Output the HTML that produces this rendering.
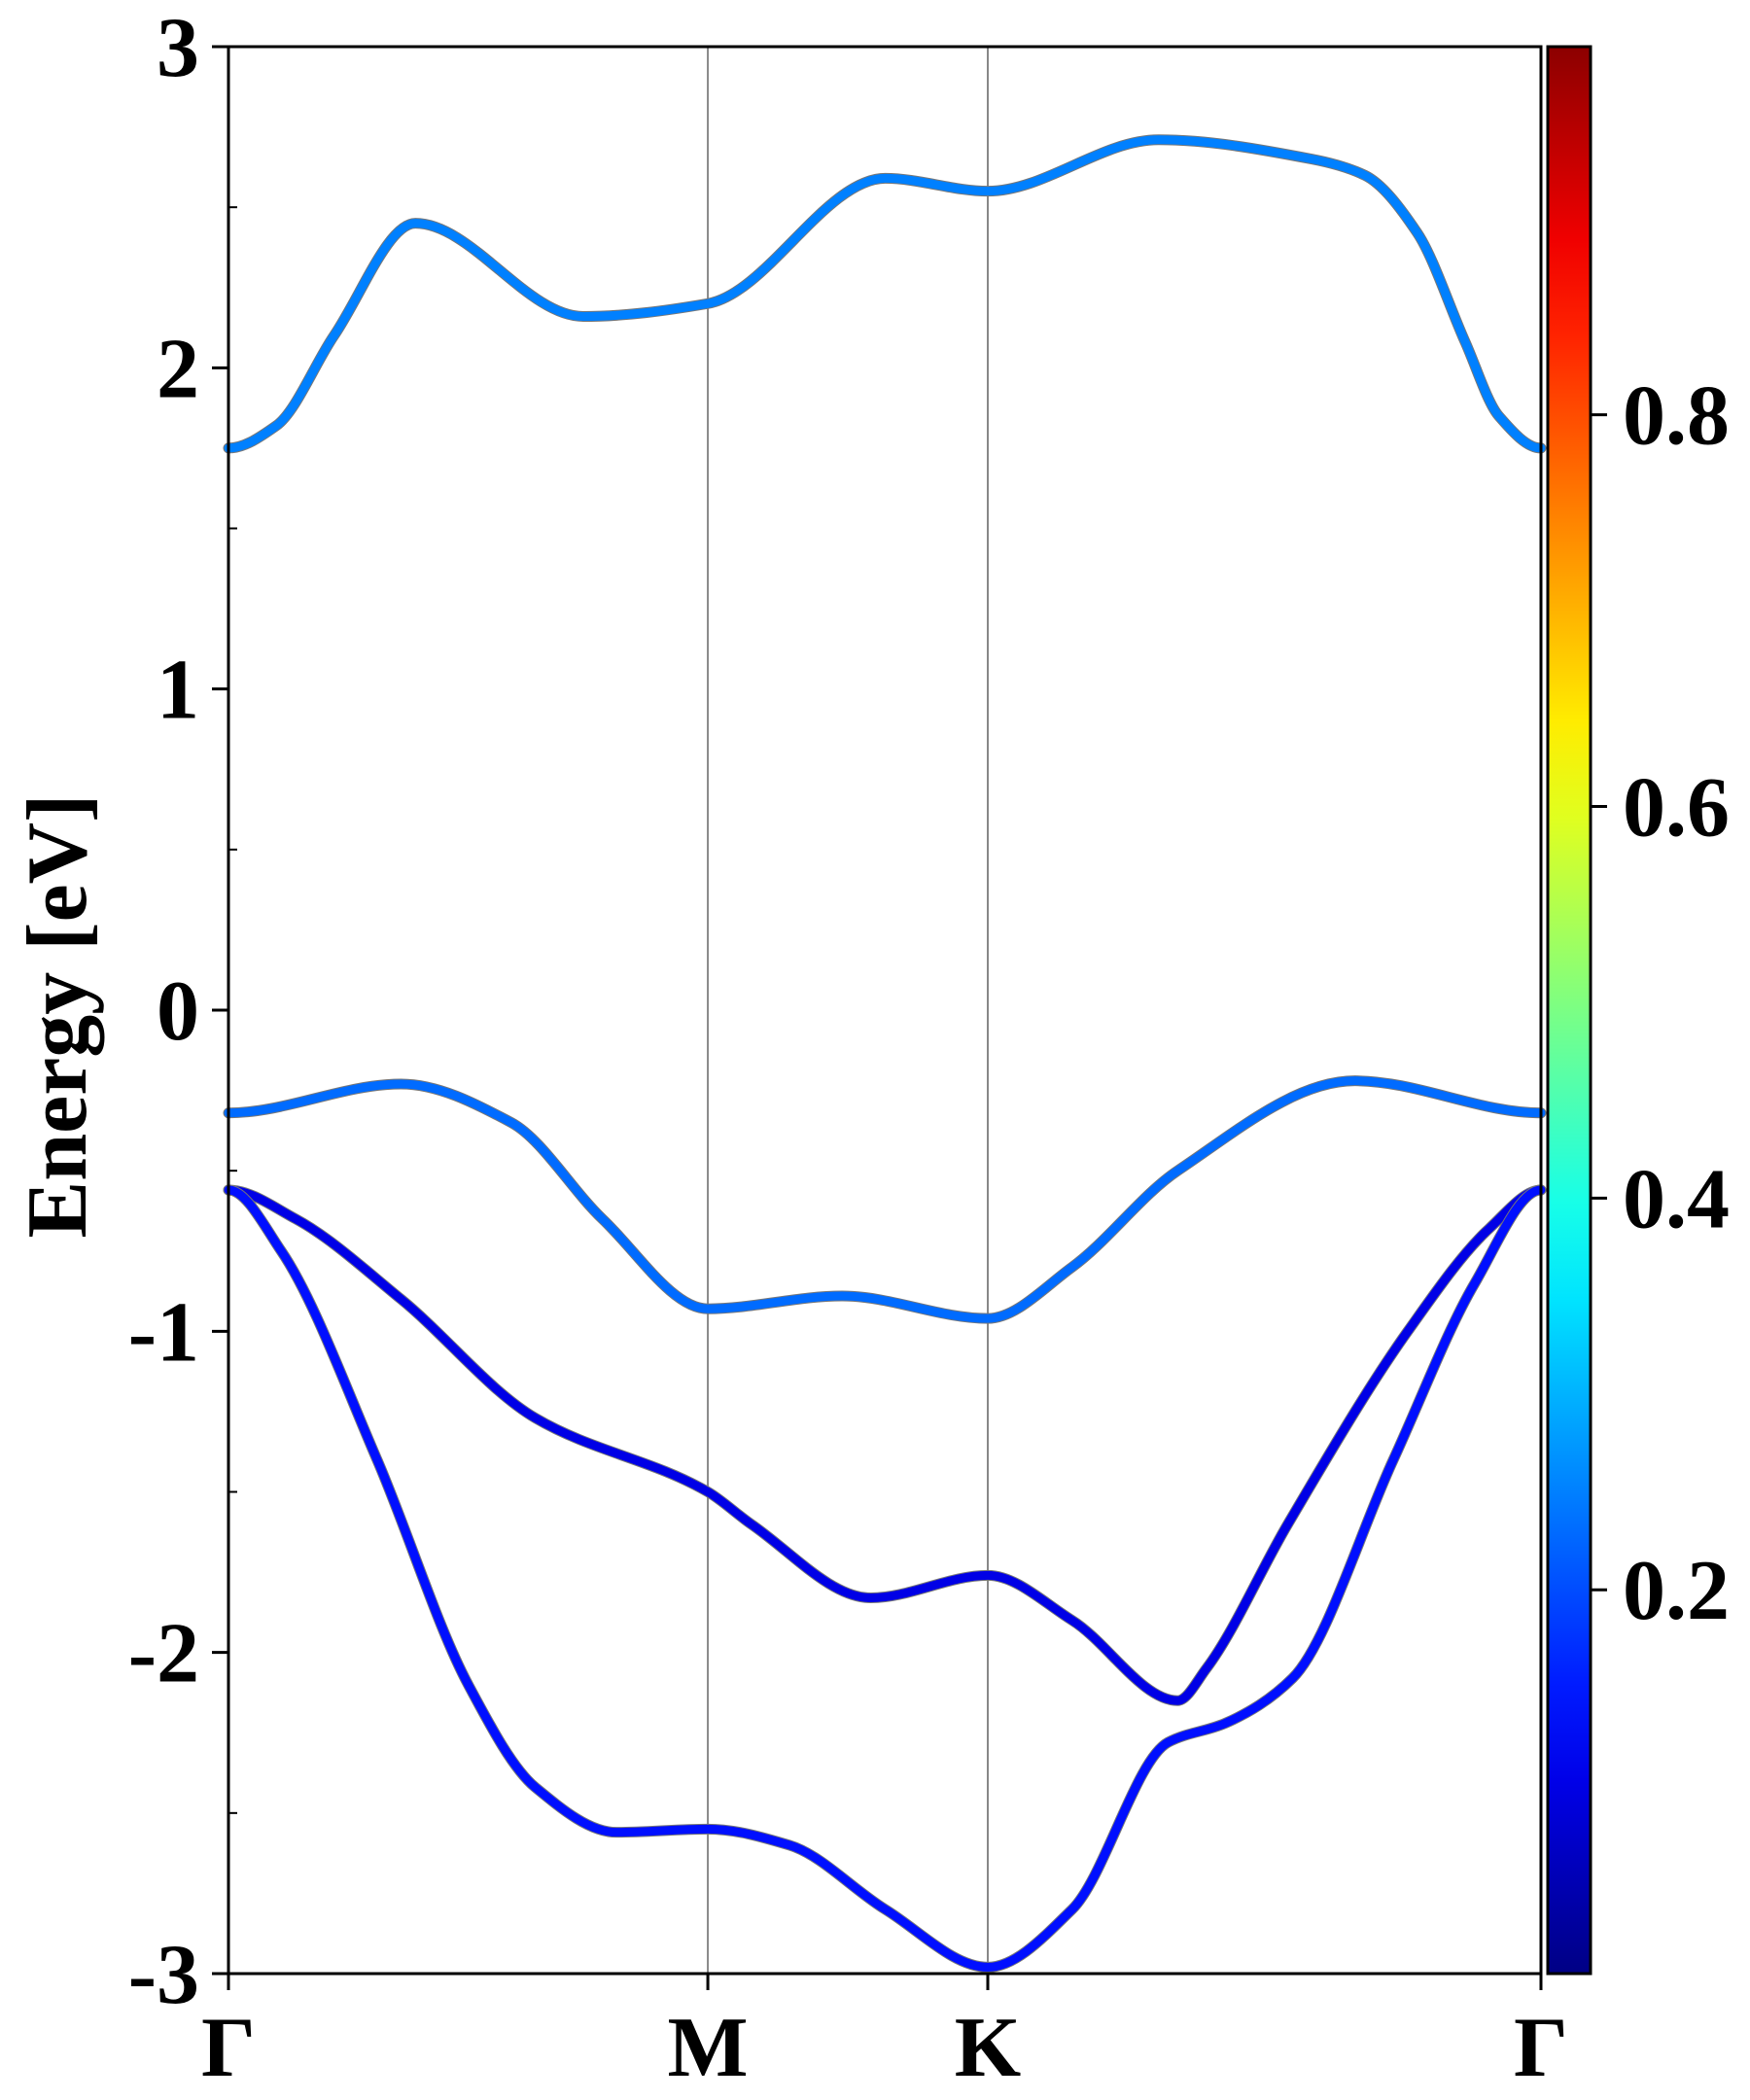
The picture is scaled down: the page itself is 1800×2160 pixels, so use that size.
<!DOCTYPE html>
<html><head><meta charset="utf-8"><style>
html,body{margin:0;padding:0;background:#fff;}
svg{display:block;font-family:"Liberation Serif",serif;font-weight:bold;}
</style></head><body>
<svg id="chart" width="1800" height="2160" viewBox="0 0 1800 2160" xmlns="http://www.w3.org/2000/svg">
<defs><linearGradient id="jetgrad" x1="0" y1="1" x2="0" y2="0"></linearGradient></defs>
<g id="plot"></g>
</svg>
<script>
const kLabels = ["Γ","M","K","Γ"];
const kTicks = [0, 1, 1.584, 2.738];
const yTicks = [-3,-2,-1,0,1,2,3];
const cbTicks = [0.2,0.4,0.6,0.8];
const band1K = [0,0.1,0.22,0.39,0.74,1,1.37,1.584,1.94,2.26,2.37,2.48,2.58,2.65,2.738];
const band1E = [1.75,1.82,2.1,2.45,2.16,2.2,2.59,2.55,2.71,2.65,2.6,2.42,2.08,1.85,1.75];
const band2K = [0,0.36,0.59,0.78,1,1.28,1.584,1.76,1.98,2.35,2.738];
const band2E = [-0.32,-0.23,-0.35,-0.65,-0.93,-0.89,-0.96,-0.8,-0.5,-0.22,-0.32];
const band3K = [0,0.14,0.36,0.64,1,1.09,1.34,1.584,1.76,1.98,2.04,2.21,2.46,2.63,2.738];
const band3E = [-0.56,-0.65,-0.9,-1.27,-1.5,-1.6,-1.83,-1.76,-1.9,-2.15,-2.05,-1.6,-1.0,-0.68,-0.56];
const band4K = [0,0.11,0.31,0.50,0.64,0.81,1,1.17,1.37,1.584,1.76,1.96,2.08,2.22,2.43,2.60,2.738];
const band4E = [-0.56,-0.75,-1.4,-2.1,-2.42,-2.56,-2.55,-2.6,-2.8,-2.98,-2.8,-2.28,-2.22,-2.08,-1.4,-0.85,-0.56];
const bandWeights = [0.25,0.23,0.10,0.14];

const X0=235,X1=1585,Y0=48,Y1=2030;
const kMax=2.738, eMin=-3, eMax=3;
const sx=k=>X0+(k/kMax)*(X1-X0);
const sy=e=>Y1-(e-eMin)/(eMax-eMin)*(Y1-Y0);
const cbMin=0.004, cbMax=0.988, CB0=1592, CB1=1636;
const cy=v=>Y1-(v-cbMin)/(cbMax-cbMin)*(Y1-Y0);

function jet(v){
  const c=x=>Math.max(0,Math.min(1,x));
  const r=c(1.5-Math.abs(4*v-3)), g=c(1.5-Math.abs(4*v-2)), b=c(1.5-Math.abs(4*v-1));
  return `rgb(${Math.round(r*255)},${Math.round(g*255)},${Math.round(b*255)})`;
}
const NS="http://www.w3.org/2000/svg";
const root=document.getElementById('plot');
function el(t,a,parent){const e=document.createElementNS(NS,t);for(const k in a)e.setAttribute(k,a[k]);(parent||root).appendChild(e);return e;}

for(let i=1;i<kTicks.length-1;i++){
  const l=el('line',{x1:sx(kTicks[i]),x2:sx(kTicks[i]),y1:Y0,y2:Y1,stroke:'#888','stroke-width':2});
  
  
}
// monotone cubic (Fritsch-Carlson) path in screen space
function smoothPath(K,E){
  const x=K.map(sx), y=E.map(sy), n=x.length;
  const d=[],m=new Array(n);
  for(let i=0;i<n-1;i++) d.push((y[i+1]-y[i])/(x[i+1]-x[i]));
  m[0]=0; m[n-1]=0;
  for(let i=1;i<n-1;i++){
    if(d[i-1]*d[i]<=0) m[i]=0;
    else { const h0=x[i]-x[i-1],h1=x[i+1]-x[i];
      const w1=2*h1+h0,w2=h1+2*h0; m[i]=(w1+w2)/(w1/d[i-1]+w2/d[i]); }
  }
  let p=`M${x[0]},${y[0]}`;
  for(let i=0;i<n-1;i++){
    const h=(x[i+1]-x[i])/3;
    p+=` C${x[i]+h},${y[i]+m[i]*h} ${x[i+1]-h},${y[i+1]-m[i+1]*h} ${x[i+1]},${y[i+1]}`;
  }
  return p;
}
const bands=[[band1K,band1E],[band2K,band2E],[band3K,band3E],[band4K,band4E]];
bands.forEach((b,i)=>{
  const d=smoothPath(b[0],b[1]);
  const o=el('path',{d,fill:'none',stroke:'#777','stroke-width':11,'stroke-linecap':'round','stroke-linejoin':'round'});
  
  
  const p=el('path',{d,fill:'none',stroke:jet(bandWeights[i]),'stroke-width':9,'stroke-linecap':'round','stroke-linejoin':'round'});
  
  
});
const fr=el('rect',{x:X0,y:Y0,width:X1-X0,height:Y1-Y0,fill:'none',stroke:'#000','stroke-width':3});


yTicks.forEach(v=>{
  const t=el('line',{x1:X0-17,x2:X0,y1:sy(v),y2:sy(v),stroke:'#000','stroke-width':3});
  
  
  const tx=el('text',{x:X0-30,y:sy(v)+30,'text-anchor':'end','font-size':88});
  tx.textContent=String(v);
  
  
  if(v<3){
    const m=el('line',{x1:X0,x2:X0+9,y1:sy(v+0.5),y2:sy(v+0.5),stroke:'#000','stroke-width':2});
    
    
  }
});
kTicks.forEach((k,i)=>{
  const t=el('line',{x1:sx(k),x2:sx(k),y1:Y1,y2:Y1+17,stroke:'#000','stroke-width':3});
  
  
  const tx=el('text',{x:sx(k),y:2135,'text-anchor':'middle','font-size':88});
  tx.textContent=kLabels[i];
  
  
});
const yt=el('text',{x:0,y:0,transform:'translate(88,1045) rotate(-90)','text-anchor':'middle','font-size':88});
yt.textContent='Energy [eV]';


const grad=document.getElementById('jetgrad');
for(let i=0;i<=20;i++){const v=i/20;el('stop',{offset:v,'stop-color':jet(cbMin+v*(cbMax-cbMin))},grad);}
const cb=el('rect',{x:CB0,y:Y0,width:CB1-CB0,height:Y1-Y0,fill:'url(#jetgrad)',stroke:'#000','stroke-width':3});


cbTicks.forEach(v=>{
  const t=el('line',{x1:CB1,x2:CB1+17,y1:cy(v),y2:cy(v),stroke:'#000','stroke-width':3});
  
  
  const tx=el('text',{x:1669,y:cy(v)+30,'font-size':88});
  tx.textContent=v.toFixed(1);
  
  
});
</script>
</body></html>
